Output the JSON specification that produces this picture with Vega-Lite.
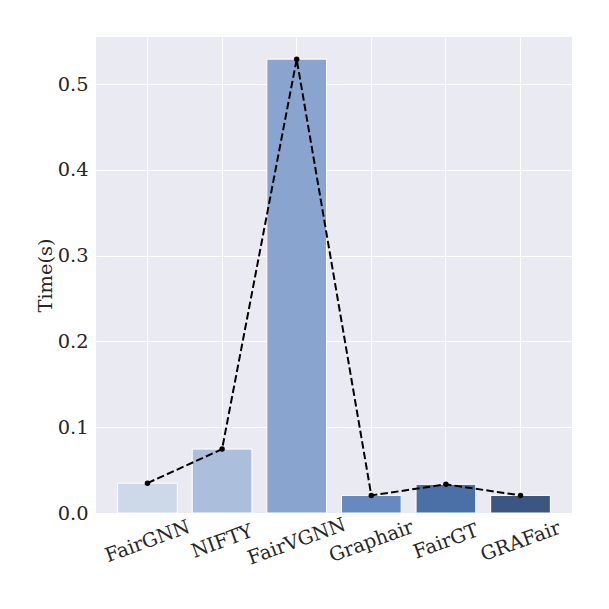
{
  "$schema": "https://vega.github.io/schema/vega-lite/v6.json",
  "width": 476,
  "height": 476,
  "autosize": {"type": "none"},
  "padding": {"left": 96, "top": 37, "right": 37, "bottom": 96},
  "background": "white",
  "config": {
    "view": {"fill": "#eaeaf2", "stroke": null},
    "font": "DejaVu Serif",
    "axis": {
      "domain": false,
      "ticks": false,
      "gridColor": "white",
      "gridWidth": 1,
      "labelFont": "DejaVu Serif",
      "labelFontSize": 19.4,
      "labelColor": "#262626",
      "titleFont": "DejaVu Serif",
      "titleFontSize": 19.4,
      "titleFontWeight": "normal",
      "titleColor": "#262626"
    }
  },
  "data": {
    "values": [
      {"method": "FairGNN", "time": 0.0348},
      {"method": "NIFTY", "time": 0.0745},
      {"method": "FairVGNN", "time": 0.529},
      {"method": "Graphair", "time": 0.0205},
      {"method": "FairGT", "time": 0.0334},
      {"method": "GRAFair", "time": 0.0205}
    ]
  },
  "encoding": {
    "x": {
      "field": "method",
      "type": "nominal",
      "sort": null,
      "title": null,
      "scale": {"paddingInner": 0.2, "paddingOuter": 0.29},
      "axis": {"labelAngle": -20, "labelAlign": "center", "labelBaseline": "middle", "labelPadding": 28, "grid": true}
    },
    "y": {
      "field": "time",
      "type": "quantitative",
      "title": "Time(s)",
      "scale": {"domain": [0, 0.5548], "nice": false, "zero": true},
      "axis": {"values": [0, 0.1, 0.2, 0.3, 0.4, 0.5], "format": ".1f", "labelPadding": 8, "titlePadding": 2}
    }
  },
  "layer": [
    {
      "mark": {"type": "bar", "stroke": "white", "strokeWidth": 1},
      "encoding": {
        "color": {
          "field": "method",
          "type": "nominal",
          "legend": null,
          "scale": {
            "domain": ["FairGNN", "NIFTY", "FairVGNN", "Graphair", "FairGT", "GRAFair"],
            "range": ["#cdd8e8", "#abbfdd", "#89a5cf", "#6689bf", "#4b70a7", "#3b5681"]
          }
        }
      }
    },
    {
      "mark": {"type": "line", "color": "black", "strokeWidth": 2, "strokeDash": [7.5, 3.2]},
      "encoding": {}
    },
    {
      "mark": {"type": "point", "filled": true, "color": "black", "size": 30, "opacity": 1},
      "encoding": {}
    }
  ]
}
